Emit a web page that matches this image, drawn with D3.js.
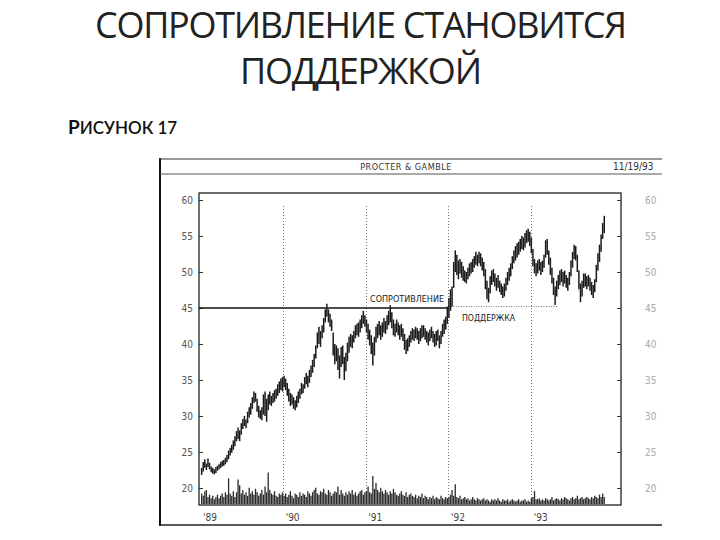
<!DOCTYPE html>
<html><head><meta charset="utf-8">
<script src="https://cdn.jsdelivr.net/npm/d3@7/dist/d3.min.js"></script>
<style>
html,body{margin:0;padding:0;background:#fff;}
svg{display:block;}
</style></head>
<body>
<svg id="chart" width="720" height="540"></svg>
<script>
// ---------------- DATA ----------------
const titleLines = ["СОПРОТИВЛЕНИЕ СТАНОВИТСЯ", "ПОДДЕРЖКОЙ"];
const figureLabel = ["Р", "ИСУНОК 17"];
const stockName = "PROCTER & GAMBLE";
const chartDate = "11/19/93";
const firstWeek = "1989-01-06";           // weekly bars, one per Friday
const yearTicks = ["1989","1990","1991","1992","1993"];
const gridYears = ["1990","1991","1992","1993"];
const priceTicks = [20,25,30,35,40,45,50,55,60];
const resistanceLevel = 45;
const resistanceLabel = "СОПРОТИВЛЕНИЕ";
const supportLabel = "ПОДДЕРЖКА";

const low89 = [21.8,22.3,22.8,22.5,22.9,22.6,22.2,22.0,21.9,22.1,
  22.4,22.6,22.8,23.0,23.1,23.3,23.6,24.0,24.5,24.9,
  25.3,25.8,26.5,26.8,26.5,27.4,28.2,28.6,28.3,29.0,
  29.8,30.2,31.0,31.8,32.0,30.6,29.8,29.6,29.4,30.2,
  30.0,29.2,30.8,31.6,31.4,31.8,32.0,32.4,32.8,33.2,
  33.6,33.4];
const high89 = [22.8,23.6,24.0,23.4,24.1,23.5,23.0,22.8,22.6,22.9,
  23.1,23.3,23.6,23.8,23.9,24.2,24.6,25.2,25.6,26.0,
  26.6,27.2,27.9,28.4,28.0,29.0,29.6,30.0,29.5,30.6,
  31.2,31.8,32.6,33.4,33.2,32.4,31.4,30.8,31.2,33.0,
  33.4,32.4,33.0,33.4,32.8,33.2,33.6,33.8,34.4,34.8,
  35.2,35.4];
const low90 = [34.0,33.6,32.8,32.0,31.4,31.6,31.0,30.8,31.2,31.8,
  32.4,33.0,33.2,33.8,34.4,34.0,34.6,35.4,36.0,36.8,
  38.0,39.4,40.0,39.6,40.8,41.6,43.0,43.8,43.0,42.4,
  41.8,38.4,37.2,37.6,36.4,35.2,36.8,37.2,35.0,36.2,
  37.6,38.8,39.6,39.4,40.2,40.8,41.2,41.0,41.6,42.2,
  42.8,42.4];
const high90 = [35.6,35.2,34.6,33.8,33.2,33.0,32.6,32.2,32.8,33.4,
  33.8,34.6,34.4,35.4,36.0,35.6,36.4,37.0,37.8,38.6,
  39.8,41.6,42.4,41.8,42.6,43.6,44.8,45.6,44.8,44.2,
  43.4,41.6,40.0,39.8,39.4,38.4,39.6,39.8,38.2,38.8,
  40.2,41.0,41.4,41.2,41.8,42.6,42.8,43.0,43.4,44.0,
  44.6,44.0];
const low91 = [41.6,40.6,39.8,38.6,37.0,38.4,40.2,40.8,41.2,40.6,
  41.0,41.6,41.4,42.0,42.6,43.0,42.2,41.2,41.0,41.6,
  41.2,40.6,41.0,40.4,39.2,38.6,39.0,39.6,40.2,40.6,
  40.4,40.8,40.6,40.0,40.4,40.8,41.0,40.6,40.2,39.8,
  40.4,40.8,40.2,39.6,39.8,40.4,39.4,40.0,41.0,41.4,
  42.0,42.8];
const high91 = [43.4,42.8,42.0,41.2,40.2,41.0,42.4,42.8,43.2,42.6,
  43.0,43.6,43.2,44.0,44.6,45.4,44.4,43.4,42.8,43.4,
  43.0,42.6,42.8,42.2,41.4,40.6,40.8,41.2,41.8,42.2,
  42.0,42.4,42.2,41.8,42.2,42.6,42.6,42.2,41.8,41.6,
  42.0,42.4,41.8,41.4,41.8,42.0,41.2,41.8,42.8,43.4,
  43.8,45.2];
const low92 = [43.6,44.6,45.2,47.8,50.0,49.6,49.0,49.8,49.2,48.8,
  48.6,48.4,49.0,49.4,49.8,50.0,50.6,51.0,50.8,51.2,
  50.8,50.2,49.4,47.6,46.2,45.8,47.0,48.2,48.6,48.0,
  47.4,47.8,47.2,46.8,46.4,46.6,47.4,48.2,48.8,49.4,
  50.4,51.2,51.6,52.0,52.4,52.8,53.2,53.0,53.4,54.0,
  54.2,53.6];
const high92 = [46.4,47.6,48.0,51.4,53.0,52.4,51.6,51.8,51.4,50.8,
  50.2,50.0,50.6,51.2,51.4,51.8,52.2,52.8,52.4,52.8,
  52.6,52.0,51.4,50.4,48.8,47.8,49.4,50.2,50.4,49.8,
  49.2,49.6,48.8,48.4,48.0,48.4,49.2,50.0,50.6,51.2,
  52.2,53.0,53.6,54.0,54.2,54.6,55.0,54.8,55.4,55.8,
  56.0,55.6];
const low93 = [52.6,50.8,49.8,49.4,49.8,50.2,49.6,50.0,50.6,52.0,
  52.4,51.0,49.6,48.4,46.8,45.4,46.6,47.6,48.2,48.6,
  48.0,48.4,47.8,47.4,48.2,49.4,50.6,51.8,51.6,50.0,
  47.6,45.8,46.6,47.8,48.0,47.6,48.0,47.4,46.8,46.4,
  47.2,48.6,50.2,51.4,52.8,54.6,55.4];
const high93 = [54.8,53.2,51.8,51.2,51.6,51.8,51.4,51.6,52.4,54.4,
  54.6,53.0,52.0,50.6,49.2,48.0,48.8,49.6,50.2,50.4,
  50.0,50.2,49.6,49.2,50.0,51.6,52.8,53.8,53.6,52.4,
  50.2,48.4,48.8,49.8,49.8,49.4,49.6,49.2,48.6,48.2,
  49.0,51.0,52.6,53.8,55.2,56.8,57.8];

// weekly volume (arbitrary units)
const vol89 = [9,7,11,12,6,8,5,7,4,6,8,5,7,9,6,10,8,22,9,7,11,6,10,21,16,9,12,8,10,7,14,9,11,8,13,10,7,9,12,8,15,10,27,12,9,8,11,7,6,9,8,10];
const vol90 = [7,9,6,8,11,7,5,9,8,6,10,7,9,8,6,11,9,7,10,12,14,9,8,11,10,13,9,8,12,10,7,9,11,10,15,8,12,9,7,10,8,11,9,12,8,10,7,9,11,12,8,10];
const vol91 = [11,15,10,9,24,13,18,12,10,14,11,9,12,10,8,11,9,13,10,8,7,9,11,8,7,10,6,8,9,7,6,8,5,7,6,9,5,7,6,4,6,5,7,4,6,5,4,7,5,4,6,5];
const vol92 = [6,8,12,7,17,6,5,7,4,5,6,4,5,3,4,6,4,3,5,4,3,4,5,3,4,3,2,4,3,4,3,5,3,2,4,3,3,4,2,3,4,3,2,3,4,2,3,3,4,2,3,2];
const vol93 = [5,6,11,4,4,5,3,4,3,5,4,3,4,6,3,4,5,4,3,5,4,6,5,4,3,5,6,4,5,7,4,5,6,4,5,6,5,4,6,5,7,6,5,8,6,9,6];

// ---------------- BUILD ----------------
const lows = [].concat(low89, low90, low91, low92, low93);
const highs = [].concat(high89, high90, high91, high92, high93);
const vols = [].concat(vol89, vol90, vol91, vol92, vol93);
const parse = d3.timeParse("%Y-%m-%d");
const start = parse(firstWeek);
const bars = lows.map((l, i) => ({date: d3.timeWeek.offset(start, i), low: l, high: highs[i], vol: vols[i]}));

const svg = d3.select("#chart");
const ink = "#1b1b1b";

// Title
const title = svg.append("g").attr("font-family", "'Open Sans','Noto Sans',sans-serif").attr("fill", "#222").attr("text-anchor", "middle");
title.append("text").attr("x", 361).attr("y", 38).attr("font-size", 36)
  .attr("textLength", 532).attr("lengthAdjust", "spacing").text(titleLines[0]);
title.append("text").attr("x", 361).attr("y", 84).attr("font-size", 36)
  .attr("textLength", 242).attr("lengthAdjust", "spacing").text(titleLines[1]);

// Figure label
const fl = svg.append("text").attr("x", 68).attr("y", 134).attr("font-family", "Lato,'Noto Sans',sans-serif").attr("fill", "#111");
fl.append("tspan").attr("font-size", 19).attr("font-weight", "bold").text(figureLabel[0]);
fl.append("tspan").attr("font-size", 17).attr("font-weight", 600).text(figureLabel[1]);

// Outer frame
const frame = svg.append("g").attr("fill", "none");
frame.append("line").attr("x1", 160).attr("x2", 160).attr("y1", 158).attr("y2", 526).attr("stroke", "#111").attr("stroke-width", 2);
frame.append("line").attr("x1", 159).attr("x2", 662).attr("y1", 159).attr("y2", 159).attr("stroke", "#333").attr("stroke-width", 1.2);
frame.append("line").attr("x1", 160).attr("x2", 662).attr("y1", 174).attr("y2", 174).attr("stroke", "#555").attr("stroke-width", 1);
frame.append("line").attr("x1", 159).attr("x2", 662).attr("y1", 525).attr("y2", 525).attr("stroke", "#222").attr("stroke-width", 1.6);

const small = "'Liberation Sans Narrow','DejaVu Sans Condensed',sans-serif";
svg.append("text").attr("x", 406).attr("y", 170).attr("text-anchor", "middle").attr("font-family", small)
  .attr("font-size", 9).attr("fill", "#333").attr("letter-spacing", 0.5).text(stockName);
svg.append("text").attr("x", 613).attr("y", 170).attr("font-family", small)
  .attr("font-size", 10).attr("fill", "#333").text(chartDate);

// Scales
const x = d3.scaleTime().domain([parse("1989-01-01"), parse("1994-01-01")]).range([200.5, 614]);
const y = d3.scaleLinear().domain([20, 60]).range([488, 200]);
const v = d3.scaleLinear().domain([0, 24]).range([504, 476]);

const plot = {left: 199, top: 193, right: 621, bottom: 505};

// Plot border
svg.append("rect").attr("x", plot.left).attr("y", plot.top).attr("width", plot.right - plot.left)
  .attr("height", plot.bottom - plot.top).attr("fill", "none").attr("stroke", "#222").attr("stroke-width", 1.3);

// Year grid lines (dotted)
svg.append("g").selectAll("line").data(gridYears).join("line")
  .attr("x1", d => Math.round(x(parse(d + "-01-01"))) + 0.5)
  .attr("x2", d => Math.round(x(parse(d + "-01-01"))) + 0.5)
  .attr("y1", 206).attr("y2", plot.bottom)
  .attr("stroke", "#777").attr("stroke-width", 1).attr("stroke-dasharray", "1,2");

// Axes
const leftAxis = svg.append("g").attr("transform", `translate(${plot.left},0)`)
  .call(d3.axisLeft(y).tickValues(priceTicks).tickSize(-4).tickPadding(6));
const rightAxis = svg.append("g").attr("transform", `translate(${plot.right},0)`)
  .call(d3.axisRight(y).tickValues(priceTicks).tickSize(-4).tickPadding(24));
[leftAxis, rightAxis].forEach(g => {
  g.select(".domain").remove();
  g.selectAll("line").attr("stroke", "#333");
  g.selectAll("text").attr("font-family", small).attr("font-size", 10);
});
leftAxis.selectAll("text").attr("fill", "#555");
rightAxis.selectAll("text").attr("fill", "#aaa");

const bottomAxis = svg.append("g").attr("transform", `translate(0,${plot.bottom})`)
  .call(d3.axisBottom(x).tickValues(yearTicks.map(d => parse(d + "-01-01"))).tickSize(0).tickPadding(9).tickFormat(d3.timeFormat("'%y")));
bottomAxis.select(".domain").remove();
bottomAxis.selectAll("text").attr("font-family", small).attr("font-size", 10).attr("fill", "#444")
  .attr("text-anchor", "start").attr("dx", 2);

// Resistance / support lines
svg.append("line").attr("x1", plot.left).attr("x2", x(parse("1992-01-01")))
  .attr("y1", y(resistanceLevel)).attr("y2", y(resistanceLevel))
  .attr("stroke", "#111").attr("stroke-width", 1.6);
svg.append("line").attr("x1", x(parse("1992-01-01"))).attr("x2", x(parse("1993-05-01")))
  .attr("y1", y(resistanceLevel) - 1.5).attr("y2", y(resistanceLevel) - 1.5)
  .attr("stroke", "#777").attr("stroke-width", 1).attr("stroke-dasharray", "1,1.5");

svg.append("text").attr("x", 370).attr("y", 302).attr("font-family", small).attr("font-size", 9.5)
  .attr("fill", "#222").attr("textLength", 74).attr("lengthAdjust", "spacingAndGlyphs").text(resistanceLabel);
svg.append("text").attr("x", 462).attr("y", 321).attr("font-family", small).attr("font-size", 9.5)
  .attr("fill", "#222").attr("textLength", 53).attr("lengthAdjust", "spacingAndGlyphs").text(supportLabel);

// Price bars
svg.append("g").selectAll("line").data(bars).join("line")
  .attr("x1", d => x(d.date)).attr("x2", d => x(d.date))
  .attr("y1", d => y(d.low)).attr("y2", d => y(d.high))
  .attr("stroke", ink).attr("stroke-width", 1.5);

// Volume bars
svg.append("g").selectAll("line").data(bars).join("line")
  .attr("x1", d => x(d.date)).attr("x2", d => x(d.date))
  .attr("y1", v(0)).attr("y2", d => v(d.vol))
  .attr("stroke", "#2a2a2a").attr("stroke-width", 1.3);
</script>
</body></html>
